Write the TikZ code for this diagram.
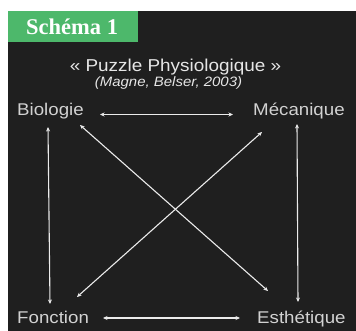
\documentclass[tikz,border=0pt]{standalone}
\usepackage{fontspec}
\setmainfont{Liberation Sans}
\newfontfamily\labfont[FakeStretch=1.1]{Liberation Sans}
\newfontfamily\headfont{Liberation Serif}
\usetikzlibrary{arrows.meta}
\definecolor{bgdark}{HTML}{1F1F1F}
\definecolor{tagreen}{HTML}{4DB86B}
\definecolor{labgray}{HTML}{D2D2D2}
\definecolor{titlegray}{HTML}{E6E6E6}
\tikzset{
  lab/.style={inner sep=0pt, anchor=base west, text=labgray, font=\labfont\fontsize{17}{20}\selectfont},
  link/.style={draw=white!92!black, line width=1.1pt,
    {Stealth[length=4.5pt,width=4pt]}-{Stealth[length=4.5pt,width=4pt]}},
}
\begin{document}
\begin{tikzpicture}[x=1pt,y=-1pt]
\useasboundingbox (0,0) rectangle (356,331);
\fill[white] (0,0) rectangle (356,331);
\fill[bgdark] (8,11) rectangle (356,331);
\fill[tagreen] (8,11) rectangle (138,42);
\node[inner sep=0pt, anchor=base west, text=white, font=\headfont\bfseries\fontsize{22.5}{26}\selectfont] (tag) at (26,34.5) {Schéma 1};
\node[inner sep=0pt, anchor=base, text=titlegray, font=\labfont\fontsize{17.2}{20}\selectfont] (title) at (175.5,72) {« Puzzle Physiologique »};
\node[inner sep=0pt, anchor=base, text=titlegray, font=\labfont\itshape\fontsize{13.6}{16}\selectfont] (sub) at (168.5,87) {(Magne, Belser, 2003)};
\node[lab] (bio) at (17,115.5) {Biologie};
\node[lab] (mec) at (253,115.5) {Mécanique};
\node[lab] (fon) at (17,323) {Fonction};
\node[lab] (est) at (257,323) {Esthétique};
\coordinate (bioE) at (100,114.5);
\coordinate (mecW) at (233,114.5);
\coordinate (fonE) at (103,318);
\coordinate (estW) at (240,318);
\coordinate (bioS) at (48,127);
\coordinate (fonN) at (50,304);
\coordinate (mecS) at (297,124);
\coordinate (estN) at (298,302);
\coordinate (bioSE) at (80,125);
\coordinate (estNW) at (268,291);
\coordinate (mecSW) at (262,132);
\coordinate (fonNE) at (77,297);
\draw[link] (bioE) -- (mecW);
\draw[link] (fonE) -- (estW);
\draw[link] (bioS) -- (fonN);
\draw[link] (mecS) -- (estN);
\draw[link] (bioSE) -- (estNW);
\draw[link] (mecSW) -- (fonNE);
\end{tikzpicture}
\end{document}
